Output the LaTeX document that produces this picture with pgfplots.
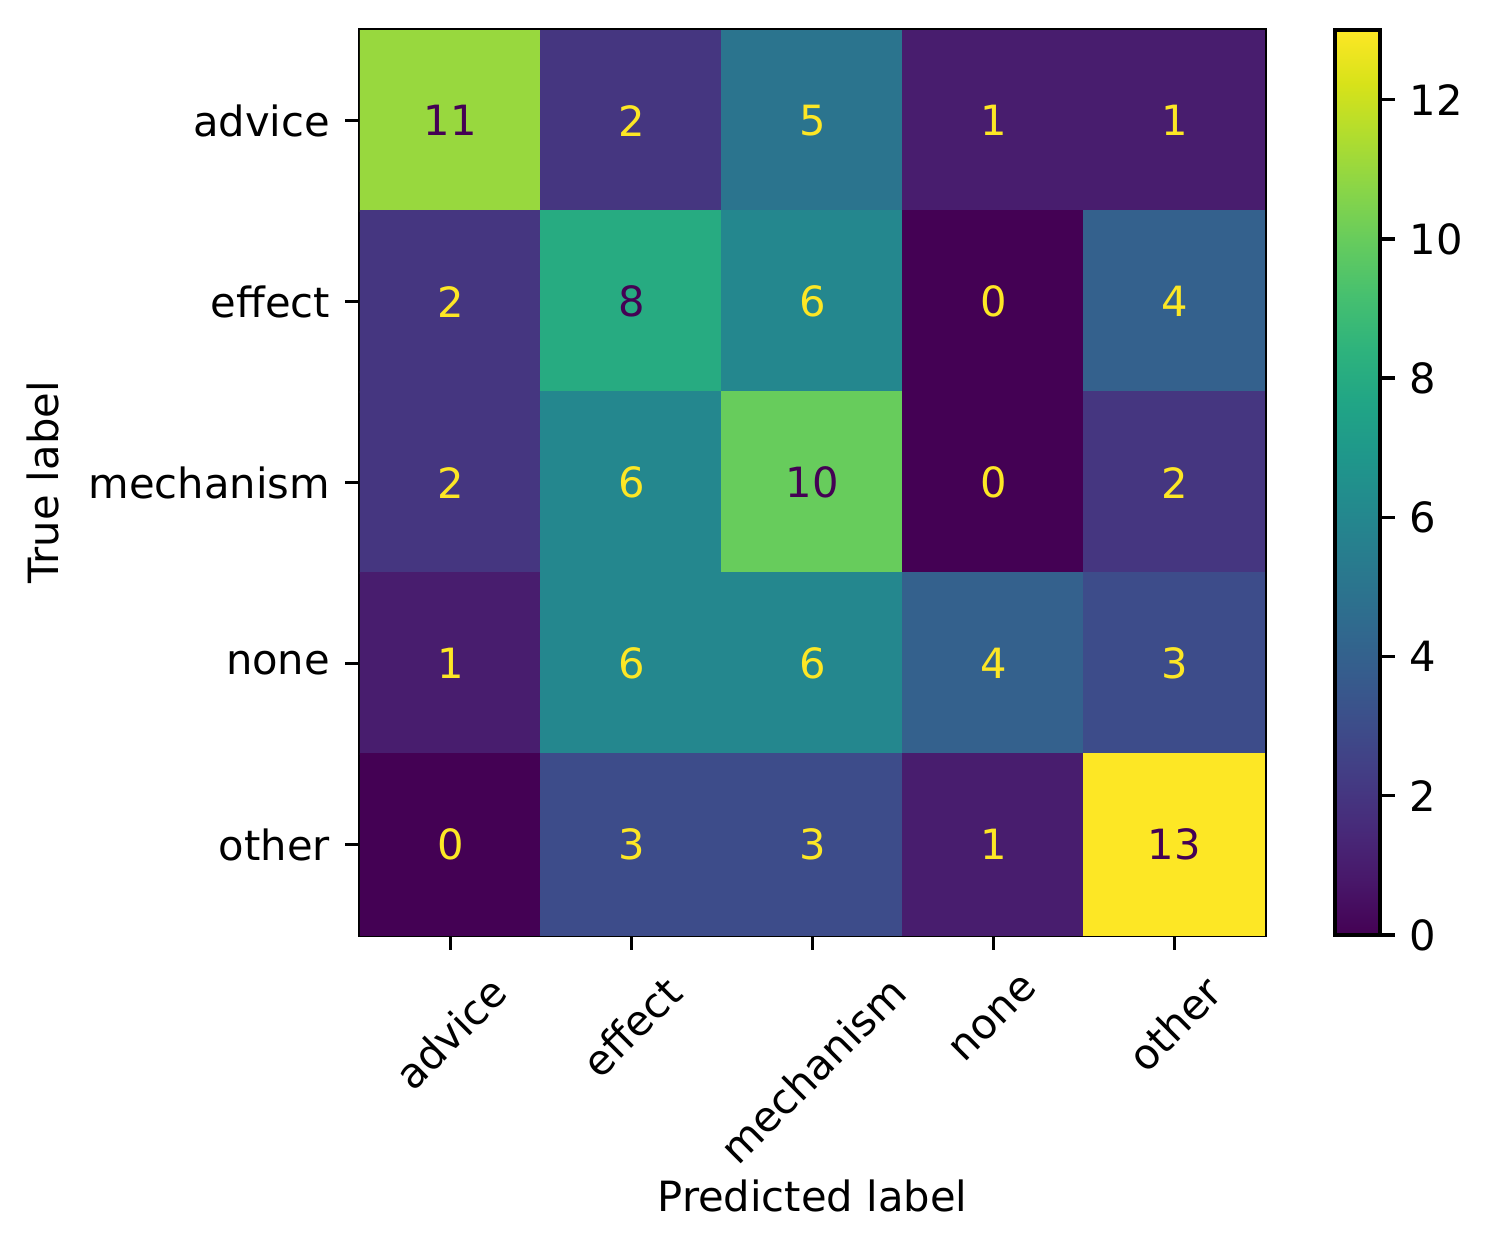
\documentclass[border=0pt]{standalone}
\usepackage{fontspec}
\setmainfont{DejaVu Sans}
\usepackage{graphicx}
\usepackage{pgfplots}
\pgfplotsset{compat=1.18}
\definecolor{vdark}{HTML}{440154}
\definecolor{vlight}{HTML}{FDE725}

\pgfplotstableread{
x y c
0 0 11
1 0 2
2 0 5
3 0 1
4 0 1
0 1 2
1 1 8
2 1 6
3 1 0
4 1 4
0 2 2
1 2 6
2 2 10
3 2 0
4 2 2
0 3 1
1 3 6
2 3 6
3 3 4
4 3 3
0 4 0
1 4 3
2 4 3
3 4 1
4 4 13
}\cm

\begin{document}
\begin{tikzpicture}
\path[use as bounding box] (-86.4pt,-76.32pt) rectangle (271.68pt,224.4pt);
\begin{axis}[
  at={(0,0)}, anchor=south west,
  scale only axis, width=217.2pt, height=217.2pt,
  xmin=-0.5, xmax=4.5, ymin=-0.5, ymax=4.5,
  y dir=reverse,
  xtick={0,...,4}, ytick={0,...,4},
  xticklabels={\rotatebox{45}{advice},\rotatebox{45}{effect},\rotatebox{45}{mechanism},\rotatebox{45}{none},\rotatebox{45}{other}},
  yticklabels={advice,effect,mechanism,none,other},
  xtick pos=bottom, ytick pos=left,
  tick align=outside, major tick length=3.5pt,
  tick style={line width=0.8pt, black},
  axis line style={line width=0.8pt},
  xticklabel style={anchor=north, inner sep=0pt, yshift=-5.5pt},
  yticklabel style={inner sep=3.5pt},
  xlabel={Predicted label}, ylabel={True label},
  xlabel style={yshift=0.5pt},
  colormap name=viridis,
  point meta min=0, point meta max=13,
  colorbar,
  colorbar style={
    at={(1.0773,1)}, anchor=north west,
    width=10.8pt,
    ytick={0,2,4,6,8,10,12},
    ytick pos=right, yticklabel pos=right,
    tick align=outside, major tick length=3.5pt,
    tick style={line width=0.8pt, black},
    axis line style={line width=0.8pt},
    yticklabel style={inner sep=3.5pt},
    /pgf/number format/assume math mode=true,
  },
  /pgf/number format/assume math mode=true,
]
\addplot[matrix plot*, mesh/cols=5, point meta=explicit] table[x=x, y=y, meta=c] {\cm};
% dark text on bright cells, bright text elsewhere
\addplot[only marks, mark=none, nodes near coords, point meta=explicit symbolic,
  every node near coord/.append style={anchor=center, text=vdark}]
  coordinates {(0,0)[11] (1,1)[8] (2,2)[10] (4,4)[13]};
\addplot[only marks, mark=none, nodes near coords, point meta=explicit symbolic,
  every node near coord/.append style={anchor=center, text=vlight}]
  coordinates {(1,0)[2] (2,0)[5] (3,0)[1] (4,0)[1]
    (0,1)[2] (2,1)[6] (3,1)[0] (4,1)[4]
    (0,2)[2] (1,2)[6] (3,2)[0] (4,2)[2]
    (0,3)[1] (1,3)[6] (2,3)[6] (3,3)[4] (4,3)[3]
    (0,4)[0] (1,4)[3] (2,4)[3] (3,4)[1]};
\end{axis}
\end{tikzpicture}
\end{document}
